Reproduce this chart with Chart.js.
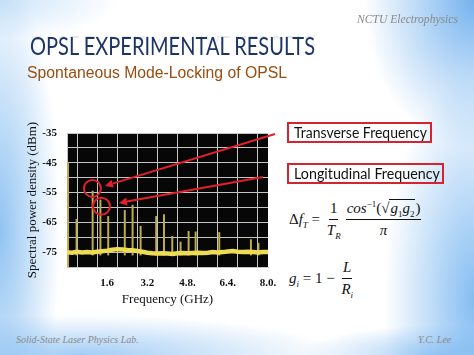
<!DOCTYPE html>
<html><head><meta charset="utf-8">
<script src="https://cdn.jsdelivr.net/npm/chart.js@4.4.1/dist/chart.umd.min.js"></script>
<style>
html,body{margin:0;padding:0;}
body{width:474px;height:355px;position:relative;overflow:hidden;background:#fff;}
#bg{position:absolute;left:0;top:0;width:474px;height:355px;
 background:
  radial-gradient(ellipse 110px 150px at 474px 0px, rgba(110,175,238,0.95), rgba(110,175,238,0) 100%),
  radial-gradient(ellipse 90px 230px at 474px 300px, rgba(120,182,240,0.9), rgba(120,182,240,0) 100%),
  radial-gradient(ellipse 60px 260px at 0px 230px, rgba(125,185,240,0.85), rgba(125,185,240,0) 100%),
  radial-gradient(ellipse 260px 40px at 80px 355px, rgba(140,192,242,0.8), rgba(140,192,242,0) 100%),
  radial-gradient(ellipse 140px 30px at 440px 355px, rgba(130,186,240,0.7), rgba(130,186,240,0) 100%),
  radial-gradient(ellipse 120px 40px at 0px 0px, rgba(170,210,245,0.6), rgba(170,210,245,0) 100%),
  #ffffff;}
.t{position:absolute;white-space:nowrap;line-height:1;transform-origin:0 0;}
#title{font-family:Lato,"Open Sans",sans-serif;font-size:25px;color:#1c3466;left:30px;top:33px;}
#refl{font-family:Lato,"Open Sans",sans-serif;font-size:25px;color:#1c3466;left:30px;top:58px;opacity:0.16;
 -webkit-mask-image:linear-gradient(to bottom, rgba(0,0,0,0) 40%, rgba(0,0,0,1) 100%);}
#sub{font-family:"Liberation Sans",Arial,sans-serif;font-size:16px;color:#9a4d10;left:27px;top:65px;}
#nctu{font-family:"Liberation Serif",serif;font-style:italic;font-size:12.5px;color:#8a8a8a;left:357px;top:13px;}
#lab{font-family:"Liberation Serif",serif;font-style:italic;font-size:10px;color:#8a8a8a;left:16px;top:335px;}
#yc{font-family:"Liberation Serif",serif;font-style:italic;font-size:10px;color:#8a8a8a;left:418px;top:335px;}
.box{position:absolute;border:2px solid #d5232f;box-sizing:border-box;}
.box span{position:absolute;left:5px;top:2px;font-family:Lato,"Open Sans",sans-serif;font-size:14.5px;line-height:1;color:#111;white-space:nowrap;transform-origin:0 0;}
.eq{position:absolute;font-family:"Liberation Serif",serif;font-size:15px;color:#111;display:flex;align-items:center;white-space:nowrap;}
.frac{display:inline-flex;flex-direction:column;align-items:center;margin:0 2px;}
.frac>span{display:block;line-height:1.1;padding:0 1px;}
.frac>span:first-child{border-bottom:1px solid #111;padding-bottom:2px;}
.frac>span:last-child{padding-top:2px;}
sub,sup{font-size:9px;line-height:0;}
.rad{border-top:1px solid #111;padding:0 1px;}
#c{position:absolute;left:0;top:0;}
</style></head>
<body>
<div id="bg"></div>
<div class="t" id="nctu" data-w="101">NCTU Electrophysics</div>
<div class="t" id="title" data-w="285">OPSL EXPERIMENTAL RESULTS</div>
<div class="t" id="refl" data-w="285">OPSL EXPERIMENTAL RESULTS</div>
<div class="t" id="sub" data-w="260">Spontaneous Mode-Locking of OPSL</div>
<div class="box" style="left:287px;top:122px;width:145px;height:21px;"><span data-w="133">Transverse Frequency</span></div>
<div class="box" style="left:287px;top:163px;width:157px;height:21px;"><span data-w="146">Longitudinal Frequency</span></div>
<div class="eq" style="left:289px;top:200px;">
  <span>Δ<i>f</i><sub><i>T</i></sub>&nbsp;=&nbsp;</span>
  <span class="frac"><span>1</span><span><i>T</i><sub><i>R</i></sub></span></span>
  <span class="frac"><span><i>cos</i><sup>−1</sup>(√<span class="rad"><i>g</i><sub>1</sub><i>g</i><sub>2</sub></span>)</span><span><i>π</i></span></span>
</div>
<div class="eq" style="left:289px;top:259px;">
  <span><i>g</i><sub><i>i</i></sub>&nbsp;=&nbsp;1&nbsp;−&nbsp;</span>
  <span class="frac"><span><i>L</i></span><span><i>R</i><sub><i>i</i></sub></span></span>
</div>
<div class="t" id="lab">Solid-State Laser Physics Lab.</div>
<div class="t" id="yc">Y.C. Lee</div>
<canvas id="c" width="474" height="355"></canvas>
<script>
// ---- data ----
const freqTicks = [0, 0.8, 1.6, 2.4, 3.2, 4.0, 4.8, 5.6, 6.4, 7.2, 8.0];
const freqLabels = ['', '', '1.6', '', '3.2', '', '4.8.', '', '6.4.', '', '8.0.'];
const levelTicks = [-80, -75, -70, -65, -60, -55, -50, -45, -40, -35];
const levelLabels = ['', '-75', '', '-65', '', '-55', '', '-45', '', '-35'];

const peakFreqs  = [0.04, 0.38, 1.02, 1.33, 1.64, 2.30, 2.61, 2.93, 3.55, 3.86, 4.19, 4.52, 4.84, 5.12, 6.06, 7.32, 7.62];
const peakLevels = [-45.0, -64.0, -54.5, -57.5, -63.0, -61.0, -59.2, -66.3, -63.0, -62.4, -69.7, -71.6, -68.0, -68.2, -68.4, -70.8, -72.0];
const spikeBase = -76;

const floorFreqs  = [0.0, 0.2, 0.4, 0.6, 0.8, 1.0, 1.2, 1.4, 1.6, 1.8, 2.0, 2.2, 2.4, 2.6, 2.8, 3.0, 3.2, 3.4, 3.6, 3.8, 4.0,
                     4.2, 4.4, 4.6, 4.8, 5.0, 5.2, 5.4, 5.6, 5.8, 6.0, 6.2, 6.4, 6.6, 6.8, 7.0, 7.2, 7.4, 7.6, 7.8, 8.0];
const floorLevels = [-75.0, -75.2, -74.9, -75.1, -75.0, -75.1, -74.9, -74.7, -74.5, -74.2, -74.0, -74.1, -74.3, -74.4, -74.6, -74.9, -75.2, -75.4, -75.5, -75.4, -75.5,
                     -75.6, -75.4, -75.3, -75.4, -75.3, -75.2, -75.3, -75.2, -75.0, -75.1, -75.0, -74.8, -74.6, -74.9, -75.0, -74.9, -75.0, -75.1, -75.0, -75.0];

// annotation marks (data coordinates)
const circleFreqs = [1.01, 1.37];
const circleLevels = [-53.6, -59.6];
const arrowTipFreqs = [1.51, 2.07];
const arrowTipLevels = [-52.8, -58.5];

// fit text widths
document.querySelectorAll('[data-w]').forEach(el => {
  if (el.tagName === 'DIV') el.style.display = 'inline-block';
  const w = el.getBoundingClientRect().width;
  const target = +el.dataset.w;
  const base = el.id === 'refl' ? ' scaleY(-1)' : '';
  el.style.transform = 'scaleX(' + (target / w) + ')' + base;
});

const bgPlugin = {
  id: 'bgPlot',
  beforeDraw(chart) {
    const {ctx, chartArea: a} = chart;
    ctx.save();
    ctx.fillStyle = '#070707';
    ctx.fillRect(a.left, a.top, a.right - a.left, a.bottom - a.top);
    ctx.restore();
  }
};

const annotPlugin = {
  id: 'annot',
  afterDraw(chart) {
    const {ctx, scales: {x, y}} = chart;
    ctx.save();
    ctx.strokeStyle = '#e3202a';
    ctx.fillStyle = '#e3202a';
    ctx.lineWidth = 2;
    circleFreqs.forEach((f, i) => {
      ctx.beginPath();
      ctx.arc(x.getPixelForValue(f), y.getPixelForValue(circleLevels[i]), 8.5, 0, Math.PI * 2);
      ctx.stroke();
    });
    const tails = [[275, 134], [263, 177]];
    arrowTipFreqs.forEach((f, i) => {
      const tx = x.getPixelForValue(f), ty = y.getPixelForValue(arrowTipLevels[i]);
      const [sx, sy] = tails[i];
      const ang = Math.atan2(ty - sy, tx - sx);
      const hl = 8, hw = 4;
      const bx = tx - hl * Math.cos(ang), by = ty - hl * Math.sin(ang);
      ctx.beginPath(); ctx.moveTo(sx, sy); ctx.lineTo(bx, by); ctx.stroke();
      ctx.beginPath();
      ctx.moveTo(tx, ty);
      ctx.lineTo(bx + hw * Math.sin(ang), by - hw * Math.cos(ang));
      ctx.lineTo(bx - hw * Math.sin(ang), by + hw * Math.cos(ang));
      ctx.closePath(); ctx.fill();
    });
    ctx.restore();
  }
};

const tickFont = {family: '"Liberation Serif", "Times New Roman", serif', size: 11, weight: 'bold'};
const titleFont = {family: '"Liberation Serif", "Times New Roman", serif', size: 13};

new Chart(document.getElementById('c'), {
  data: {
    datasets: [
      {
        type: 'line',
        data: floorFreqs.map((f, i) => ({x: f, y: floorLevels[i]})),
        borderColor: '#efdc55',
        borderWidth: 4.5,
        pointRadius: 0,
        tension: 0,
        order: 0
      },
      {
        type: 'bar',
        data: peakFreqs.map((f, i) => ({x: f, y: [i === 0 ? -80 : spikeBase, peakLevels[i]]})),
        backgroundColor: '#bfae4c',
        barThickness: 1.3,
        borderWidth: 0,
        order: 1
      }
    ]
  },
  options: {
    responsive: false,
    animation: false,
    devicePixelRatio: 1,
    layout: {padding: {left: 25, top: 133, right: 206, bottom: 38}},
    plugins: {legend: {display: false}, tooltip: {enabled: false}},
    scales: {
      x: {
        type: 'linear', min: 0, max: 8, offset: false,
        afterBuildTicks: s => { s.ticks = freqTicks.map(v => ({value: v})); },
        afterFit: s => { s.height = 50; },
        ticks: {autoSkip: false, maxRotation: 0, padding: 10, color: '#111', font: tickFont,
                callback: (v, i) => freqLabels[i]},
        grid: {color: '#c4c4c4', lineWidth: 1, drawTicks: false},
        border: {color: '#c4c4c4'},
        title: {display: true, text: 'Frequency (GHz)', color: '#111', font: titleFont, padding: {top: 0, bottom: 10}}
      },
      y: {
        type: 'linear', min: -80, max: -35,
        afterBuildTicks: s => { s.ticks = levelTicks.map(v => ({value: v})); },
        afterFit: s => { s.width = 42; },
        ticks: {autoSkip: false, padding: 10, color: '#111', font: tickFont,
                callback: (v, i) => levelLabels[i]},
        grid: {color: '#c4c4c4', lineWidth: 1, drawTicks: false},
        border: {color: '#c4c4c4'},
        title: {display: true, text: 'Spectral power density (dBm)', color: '#111', font: titleFont, padding: {top: 0, bottom: 0}}
      }
    }
  },
  plugins: [bgPlugin, annotPlugin]
});
</script>
</body></html>
